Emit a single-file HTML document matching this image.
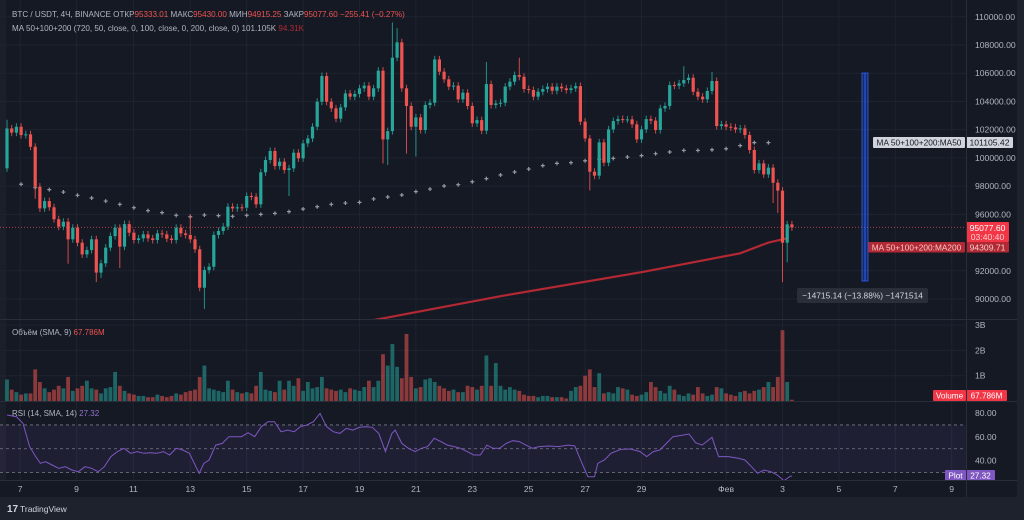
<!DOCTYPE html>
<html><head><meta charset="utf-8"><style>
html,body{margin:0;padding:0;background:#1e222d;}
svg{display:block;font-family:"Liberation Sans",sans-serif;}
</style></head><body>
<svg id="chart" width="1024" height="520" viewBox="0 0 1024 520">
<rect x="0" y="0" width="1024" height="520" fill="#1e222d"/>
<rect x="0" y="0" width="1017" height="497" fill="#151924"/>
<rect x="0" y="0" width="6" height="480" fill="#1b1f2a"/>
<g id="grid"></g>
<g id="main"></g>
<g id="vol"></g>
<g id="rsi"></g>
<g id="axis"></g>
<line x1="966.5" y1="0" x2="966.5" y2="497" stroke="#2a2e39"/>
<line x1="0" y1="319.5" x2="1017" y2="319.5" stroke="#2a2e39"/>
<line x1="0" y1="401.5" x2="1017" y2="401.5" stroke="#2a2e39"/>
<line x1="0" y1="480.5" x2="1017" y2="480.5" stroke="#2a2e39"/>
<text x="12" y="17" font-size="8.1" fill="#b2b5be">BTC / USDT, 4Ч, BINANCE  ОТКР<tspan fill="#ef5350">95333.01</tspan>  МАКС<tspan fill="#ef5350">95430.00</tspan>  МИН<tspan fill="#ef5350">94915.25</tspan>  ЗАКР<tspan fill="#ef5350">95077.60</tspan>  <tspan fill="#ef5350">−255.41 (−0.27%)</tspan></text>
<text x="12" y="31" font-size="8.1" fill="#b2b5be">MA 50+100+200 (720, 50, close, 0, 100, close, 0, 200, close, 0)  101.105K  <tspan fill="#b22833">94.31K</tspan></text>
<text x="12" y="335" font-size="8" fill="#b2b5be">Объём (SMA, 9)  <tspan fill="#ef5350">67.786M</tspan></text>
<text x="12" y="416" font-size="8" fill="#b2b5be">RSI (14, SMA, 14)  <tspan fill="#9575cd">27.32</tspan></text>
<g><text x="7" y="512" font-size="10" font-weight="bold" fill="#d1d4dc">17</text><text x="20" y="512" font-size="8.5" fill="#d1d4dc">TradingView</text></g>
</svg>
<script>
const closes=[102.09,101.79,102.21,101.62,101.67,100.79,97.96,96.42,96.94,96.50,95.65,95.13,95.48,94.23,95.05,93.99,93.16,93.47,94.23,91.87,92.53,93.64,94.46,95.05,93.71,95.31,94.70,94.18,94.30,94.58,94.30,94.18,94.65,94.58,94.28,94.18,95.05,94.65,94.54,94.23,93.52,90.80,92.05,92.29,94.54,94.82,95.13,96.54,96.42,96.50,96.47,97.30,97.25,96.71,98.98,99.85,100.49,99.42,99.73,99.14,99.26,100.37,99.97,101.03,101.38,102.21,103.98,105.80,103.98,103.51,102.78,103.58,104.57,104.34,104.53,104.93,105.12,104.34,104.93,106.18,101.31,101.90,107.10,108.19,104.93,103.68,102.21,102.87,101.98,103.75,103.91,106.98,106.11,105.57,105.05,105.12,104.15,104.62,103.68,102.45,102.68,101.93,105.23,103.75,103.86,103.91,105.05,105.40,105.87,105.75,104.88,104.81,104.34,104.69,104.88,105.05,104.76,105.05,104.93,104.81,104.93,105.09,102.57,101.38,99.02,98.74,101.10,99.66,102.02,102.61,102.75,102.73,102.73,102.38,101.31,102.02,102.75,102.64,101.98,103.51,103.68,105.16,105.12,105.28,105.52,105.68,104.69,104.34,104.15,104.74,105.45,102.26,102.38,102.21,102.16,102.02,102.09,101.62,100.56,99.14,99.61,98.83,99.31,98.24,97.68,93.99,95.29,95.08];
const firstOpen=99.26;
const highWicks={0:102.7,39:96.0,82:109.6,83:109.2,102:106.8,109:107.1,144:106.5,150:106.1};
const lowWicks={6:97.1,13:92.5,19:91.2,20:91.5,24:92.2,42:89.3,60:97.3,80:99.6,81:99.5,85:100.3,87:100.1,124:97.7,163:96.8,164:96.1,165:91.2,166:92.6};
const ma50=[98.13,97.89,97.75,97.58,97.35,97.16,96.94,96.71,96.47,96.26,96.12,95.93,95.83,95.95,95.91,95.86,95.93,96.00,96.07,96.19,96.38,96.54,96.71,96.80,96.85,97.09,97.23,97.37,97.61,97.79,98.01,98.10,98.31,98.53,98.79,99.00,99.21,99.45,99.61,99.66,99.80,99.90,99.97,100.06,100.16,100.30,100.42,100.53,100.53,100.58,100.65,100.87,101.08,101.08];
const ma200Idx=[70,105,135,156,162,166];
const ma200Val=[88.0,90.2,91.9,93.24,94.0,94.3];
const volumes=[0.85,0.45,0.35,0.25,0.3,0.3,1.25,0.75,0.5,0.35,0.45,0.6,0.5,0.95,0.4,0.5,0.6,0.8,0.5,0.45,0.3,0.5,0.55,1.15,0.6,0.4,0.3,0.25,0.2,0.2,0.15,0.15,0.25,0.2,0.15,0.2,0.3,0.25,0.35,0.4,0.45,0.95,1.4,0.5,0.45,0.4,0.35,0.8,0.45,0.35,0.3,0.35,0.3,0.6,1.15,0.45,0.4,0.35,0.8,0.45,0.8,0.6,0.9,0.4,0.75,0.5,0.55,0.95,0.5,0.45,0.4,0.45,0.35,0.5,0.45,0.4,0.55,0.8,0.55,0.8,1.85,1.4,2.25,1.35,0.9,2.65,0.95,0.5,0.55,0.85,0.9,0.75,0.6,0.5,0.4,0.45,0.35,0.35,0.6,0.55,0.45,0.6,1.8,0.6,1.5,0.6,0.45,0.55,0.45,0.4,0.25,0.2,0.2,0.15,0.2,0.2,0.15,0.15,0.15,0.1,0.4,0.55,0.6,1.0,1.25,0.55,1.1,0.3,0.35,0.3,0.55,0.5,0.45,0.25,0.2,0.25,0.35,0.75,0.55,0.4,0.3,0.6,0.45,0.25,0.2,0.3,0.25,0.55,0.3,0.2,0.25,0.55,0.5,0.3,0.25,0.2,0.35,0.4,0.3,0.4,0.45,0.55,0.75,0.55,0.95,2.8,0.75,0.05];
const rsiT=[0,2,3.4,4.8,6.1,7.1,8.2,9.6,11,12.4,13.8,15.2,16.6,18,19.4,20.7,22.1,23.5,24.9,26.3,27.7,29.1,30.5,31.9,33.3,34.6,36,37.4,38.8,40.2,40.9,41.9,43,44.4,45.8,47.2,49.9,51.3,52.7,54.1,55.5,56.9,58.3,59.7,61.1,62.4,63.8,65.2,66.6,68,69.4,70.8,72.2,73.6,75,76.3,77.7,79.1,80.5,81.9,82.6,84,85.4,86.8,88.2,89.5,90.9,92.3,93.7,95.1,96.5,97.9,99.3,100.7,102.1,103.4,104.8,106.2,107.6,109,110.4,111.8,113.2,115.3,117.3,119.4,120.8,122.2,123.6,125,125.7,127.1,128.5,130.6,132.6,134.7,136.1,137.5,138.9,140.3,141.7,143.8,145.1,146.5,147.9,150,151.4,153.5,155.6,157,158.4,159.7,161.1,162.5,163.9,165.3,166.7,167];
const rsiV=[78.3,76.9,71.3,51.8,43.4,37.8,39.2,36.4,33.6,35.0,32.2,30.8,35.0,33.6,30.8,35.0,43.4,47.6,50.4,46.2,47.6,46.2,46.7,46.2,47.6,44.8,50.4,49.0,46.2,35.0,29.4,37.8,40.6,53.1,54.5,60.1,60.1,63.5,60.1,68.5,72.7,72.7,64.3,65.7,64.3,68.5,69.9,72.7,79.7,68.5,64.3,62.9,67.1,65.7,68.0,68.5,68.0,62.9,47.6,62.9,65.7,54.5,50.4,47.6,50.4,51.8,58.8,56.0,53.1,51.8,50.4,47.6,44.8,44.8,53.1,50.4,50.4,54.5,56.8,56.0,53.1,50.4,51.8,52.3,51.8,53.1,52.3,39.2,26.6,26.6,37.8,40.6,46.2,49.5,49.8,47.6,43.4,47.6,49.0,54.5,60.1,61.5,62.4,55.1,53.1,59.6,43.4,43.4,42.0,40.6,35.0,29.4,32.2,30.8,28.0,23.2,27.1,27.1];
const priceTicks=[110000,108000,106000,104000,102000,100000,98000,96000,92000,90000];
const volTicks=["3B","2B","1B"];
const volTickVals=[3,2,1];
const rsiTicks=[80,60,40];
const dateLabels=["7","9","11","13","15","17","19","21","23","25","27","29","Фев","3","5","7","9"];
const dateIdx=[2.8,14.8,26.9,39,51,63,75,87,99,111,123,135,153,165,177,189,201];

const NS="http://www.w3.org/2000/svg";
function el(tag,attrs,parent){const e=document.createElementNS(NS,tag);for(const k in attrs)e.setAttribute(k,attrs[k]);parent.appendChild(e);return e;}
const xI=i=>7+i*4.7;
const yP=p=>299-(p-90)*14.11;
const yV=v=>401-v*25.3;
const yR=r=>413+(80-r)*1.1925;
const UP="#26a69a",DN="#ef5350";
const grid=document.getElementById('grid'),main=document.getElementById('main'),vol=document.getElementById('vol'),rsi=document.getElementById('rsi'),axis=document.getElementById('axis');

priceTicks.forEach(t=>{const y=yP(t/1000);
 const g=el('line',{x1:0,x2:966,y1:y,y2:y,stroke:'#1f2330'},grid);
 
 
 const tx=el('text',{x:975,y:y+3,'font-size':8.6,fill:'#b2b5be'},axis);
 tx.textContent=t.toFixed(2);
 
 });
dateLabels.forEach((d,k)=>{const x=xI(dateIdx[k]);
 const g=el('line',{x1:x,x2:x,y1:0,y2:480,stroke:'#1f2330'},grid);
 
 
 const tx=el('text',{x:x,y:492,'font-size':8.6,fill:'#b2b5be','text-anchor':'middle'},axis);
 tx.textContent=d;
 
 });
volTicks.forEach((t,k)=>{const y=yV(volTickVals[k]);
 const g=el('line',{x1:0,x2:966,y1:y,y2:y,stroke:'#1f2330'},grid);
 
 
 const tx=el('text',{x:975,y:y+3,'font-size':8.6,fill:'#b2b5be'},axis);
 tx.textContent=t;
 
 });
rsiTicks.forEach(t=>{const y=yR(t);
 const tx=el('text',{x:975,y:y+3,'font-size':8.6,fill:'#b2b5be'},axis);
 tx.textContent=t.toFixed(2);
 
 });

const defs=el('defs',{},document.getElementById('chart'));
const cp=el('clipPath',{id:'mclip'},defs);el('rect',{x:0,y:0,width:966,height:319},cp);
const cr=el('clipPath',{id:'rclip'},defs);el('rect',{x:0,y:402,width:966,height:78},cr);
main.setAttribute('clip-path','url(#mclip)');

let d='';ma200Idx.forEach((i,k)=>{d+=(k?'L':'M')+xI(i)+' '+yP(ma200Val[k]);});
const m2=el('path',{d:d,stroke:'#b22833',"stroke-width":2.2,fill:'none'},main);


ma50.forEach((v,k)=>{const x=xI(3+k*3),y=yP(v);
 const c=el('path',{d:`M${x-2} ${y}H${x+2}M${x} ${y-2}V${y+2}`,stroke:'#9598a1','stroke-width':1.2},main);
 
 });
const cy=yP(closes[closes.length-1]);
const pl=el('line',{x1:0,x2:966,y1:cy,y2:cy,stroke:'#ef5350','stroke-dasharray':'1 2','stroke-width':0.8,opacity:0.8},main);


closes.forEach((c,i)=>{const o=i?closes[i-1]:firstOpen;const up=c>=o;const col=up?UP:DN;
 const hi=highWicks[i]!==undefined?highWicks[i]:Math.max(o,c)+0.25;
 const lo=lowWicks[i]!==undefined?lowWicks[i]:Math.min(o,c)-0.25;
 const x=xI(i);
 const w=el('line',{x1:x,x2:x,y1:yP(hi),y2:yP(lo),stroke:col,'stroke-width':1,opacity:0.85},main);
 
 
 const t=yP(Math.max(o,c)),b=yP(Math.min(o,c));
 const r=el('rect',{x:x-1.6,y:t,width:3.2,height:Math.max(1,b-t),fill:col},main);
 
 
 const vv=volumes[i];
 const vb=el('rect',{x:x-1.9,y:yV(vv),width:3.8,height:401-yV(vv),fill:up?'rgba(38,166,154,0.55)':'rgba(239,83,80,0.55)'},vol);
 
 });
const band=el('rect',{x:0,y:yR(70),width:966,height:yR(30)-yR(70),fill:'rgba(126,87,194,0.1)'},rsi);


[70,50,30].forEach(l=>{const ln=el('line',{x1:0,x2:966,y1:yR(l),y2:yR(l),stroke:'#787b86','stroke-dasharray':'3 3','stroke-width':0.8},rsi);
 
 });
let rd='';rsiT.forEach((t,k)=>{rd+=(k?'L':'M')+xI(t).toFixed(1)+' '+yR(rsiV[k]).toFixed(1);});
const rl=el('path',{d:rd,stroke:'#7e57c2','stroke-width':1,fill:'none','clip-path':'url(#rclip)'},rsi);



function tag(x,y,w,h,bg,fg,txt,name,fs){const g=el('g',{},axis);
 
 
 el('rect',{x:x,y:y,width:w,height:h,fill:bg,rx:1},g);
 const t=el('text',{x:x+w/2,y:y+h/2+3,'font-size':fs||8.6,fill:fg,'text-anchor':'middle'},g);t.textContent=txt;return g;}
tag(873,137,92,11,'#d1d4dc','#131722','MA 50+100+200:MA50','ma50-name-tag',8.3);
tag(966,137,47,11,'#d1d4dc','#131722','101105.42','ma50-price-tag',8.6);
const lastBox=el('rect',{x:966,y:222,width:43,height:20,fill:'#f23645',rx:1},axis);


const lt1=el('text',{x:987.5,y:231,'font-size':8.6,fill:'#fff','text-anchor':'middle'},axis);lt1.textContent='95077.60';


const lt2=el('text',{x:987.5,y:240,'font-size':8.6,fill:'#fbd0d0','text-anchor':'middle'},axis);lt2.textContent='03:40:40';


tag(868,242,97,10.5,'#b22833','#f0c8cb','MA 50+100+200:MA200','ma200-name-tag',8.3);
tag(966,242,43,10.5,'#b22833','#f0d0d2','94309.71','ma200-price-tag',8.6);
tag(933,390,33,11,'#f23645','#fff','Volume','volume-name-tag',8.2);
tag(966,390,41,11,'#f23645','#fff','67.786M','volume-value-tag',8.2);
tag(945,470,21,11,'#7e57c2','#fff','Plot','rsi-name-tag',8.2);
tag(966,470,29,11,'#7e57c2','#fff','27.32','rsi-value-tag',8.2);

const mg=el('g',{},main.parentNode);


el('rect',{x:862,y:73,width:6,height:208,fill:'rgba(41,98,255,0.25)',stroke:'#2962ff','stroke-width':0.8},mg);
el('line',{x1:865,x2:865,y1:73,y2:281,stroke:'#2962ff','stroke-width':1},mg);
el('rect',{x:797,y:288,width:131,height:15,fill:'#2a2e39',rx:2},mg);
const mt=el('text',{x:862.5,y:298.5,'font-size':8.4,fill:'#d1d4dc','text-anchor':'middle'},mg);mt.textContent='−14715.14 (−13.88%) −1471514';
</script>
</body></html>
